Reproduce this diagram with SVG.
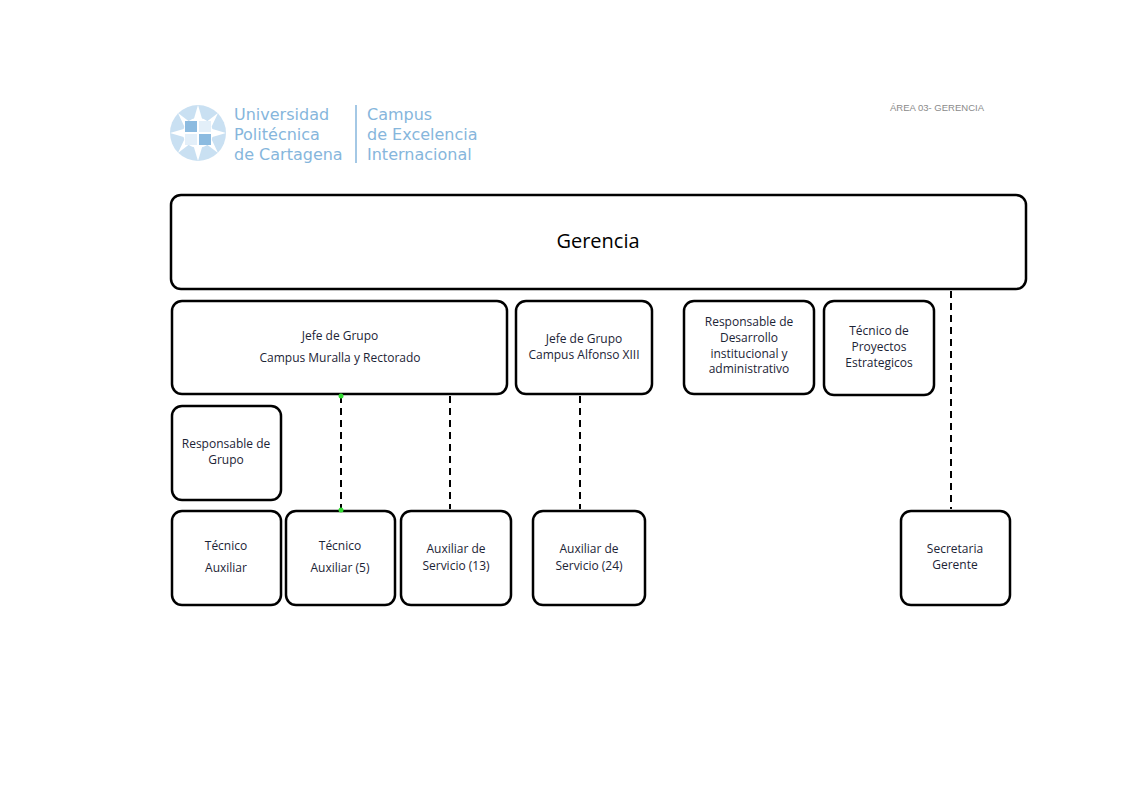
<svg xmlns="http://www.w3.org/2000/svg" width="1122" height="793" viewBox="0 0 1122 793">
<style>
.box{fill:#fff;stroke:#000;stroke-width:2.5}
.t{font-family:"Open Sans","Liberation Sans",sans-serif;font-size:12px;fill:#1c2436;text-anchor:middle}
.big{font-size:20px;fill:#000}
.dash{stroke:#000;stroke-width:2;stroke-dasharray:7,5;fill:none}
.logo{font-family:"DejaVu Sans","Liberation Sans",sans-serif;font-size:16px;fill:#86b6dc}
.hdr{font-family:"Liberation Sans",sans-serif;font-size:9.5px;fill:#8a8a8a}
</style>
<rect width="1122" height="793" fill="#fff"/>
<g id="logo">
<circle cx="198" cy="133" r="28" fill="#c9e0f2"/>
<g fill="#fff">
<polygon points="198,105 203,122 193,122"/>
<polygon points="198,161 203,144 193,144"/>
<polygon points="170,133 187,128 187,138"/>
<polygon points="226,133 209,128 209,138"/>
<polygon points="178,113 191,123 185,128"/>
<polygon points="218,113 205,123 211,128"/>
<polygon points="178,153 191,143 185,138"/>
<polygon points="218,153 205,143 211,138"/>
</g>
<circle cx="198" cy="133" r="15" fill="#fff"/>
<rect x="185" y="121" width="12" height="11" fill="#8cbbe0"/>
<rect x="199" y="134" width="12" height="11" fill="#8cbbe0"/>
<rect x="199" y="121" width="12" height="11" fill="#e3eff9"/>
<rect x="185" y="134" width="12" height="11" fill="#e3eff9"/>
<text class="logo" x="234" y="120">Universidad</text>
<text class="logo" x="234" y="140">Politécnica</text>
<text class="logo" x="234" y="160">de Cartagena</text>
<line x1="356" y1="105" x2="356" y2="163" stroke="#86b6dc" stroke-width="1.5"/>
<text class="logo" x="367" y="120">Campus</text>
<text class="logo" x="367" y="140">de Excelencia</text>
<text class="logo" x="367" y="160">Internacional</text>
</g>
<text class="hdr" x="890" y="111">ÁREA 03- GERENCIA</text>
<g id="gerencia">
<rect class="box" x="171" y="195" width="855" height="94" rx="10"/>
<text class="t big" x="598" y="248">Gerencia</text>
</g>
<g id="jefe1">
<rect class="box" x="172" y="301" width="335" height="93" rx="10"/>
<text class="t" x="340" y="340">Jefe de Grupo</text>
<text class="t" x="340" y="362">Campus Muralla y Rectorado</text>
</g>
<g id="jefe2">
<rect class="box" x="516" y="301" width="136" height="93" rx="10"/>
<text class="t" x="584" y="343">Jefe de Grupo</text>
<text class="t" x="584" y="359">Campus Alfonso XIII</text>
</g>
<g id="desarrollo">
<rect class="box" x="684" y="301" width="130" height="93" rx="10"/>
<text class="t" x="749" y="326">Responsable de</text>
<text class="t" x="749" y="342">Desarrollo</text>
<text class="t" x="749" y="358">institucional y</text>
<text class="t" x="749" y="373">administrativo</text>
</g>
<g id="proyectos">
<rect class="box" x="824" y="301" width="110" height="94" rx="10"/>
<text class="t" x="879" y="335">Técnico de</text>
<text class="t" x="879" y="351">Proyectos</text>
<text class="t" x="879" y="367">Estrategicos</text>
</g>
<g id="resp-grupo">
<rect class="box" x="172" y="406" width="109" height="94" rx="10"/>
<text class="t" x="226" y="448">Responsable de</text>
<text class="t" x="226" y="464">Grupo</text>
</g>
<g id="tec-aux">
<rect class="box" x="172" y="511" width="109" height="94" rx="10"/>
<text class="t" x="226" y="550">Técnico</text>
<text class="t" x="226" y="572">Auxiliar</text>
</g>
<g id="tec-aux5">
<rect class="box" x="286" y="511" width="109" height="94" rx="10"/>
<text class="t" x="340" y="550">Técnico</text>
<text class="t" x="340" y="572">Auxiliar (5)</text>
</g>
<g id="aux13">
<rect class="box" x="401" y="511" width="110" height="94" rx="10"/>
<text class="t" x="456" y="553">Auxiliar de</text>
<text class="t" x="456" y="570">Servicio (13)</text>
</g>
<g id="aux24">
<rect class="box" x="533" y="511" width="112" height="94" rx="10"/>
<text class="t" x="589" y="553">Auxiliar de</text>
<text class="t" x="589" y="570">Servicio (24)</text>
</g>
<g id="secretaria">
<rect class="box" x="901" y="511" width="109" height="94" rx="10"/>
<text class="t" x="955" y="553">Secretaria</text>
<text class="t" x="955" y="569">Gerente</text>
</g>
<g id="connectors">
<line class="dash" x1="951" y1="291" x2="951" y2="509"/>
<line class="dash" x1="341" y1="396" x2="341" y2="509"/>
<line class="dash" x1="450" y1="396" x2="450" y2="509"/>
<line class="dash" x1="580" y1="396" x2="580" y2="509"/>
<circle cx="341" cy="396" r="2.5" fill="#33dd33"/>
<circle cx="341" cy="510" r="2.5" fill="#33dd33"/>
</g>
</svg>
